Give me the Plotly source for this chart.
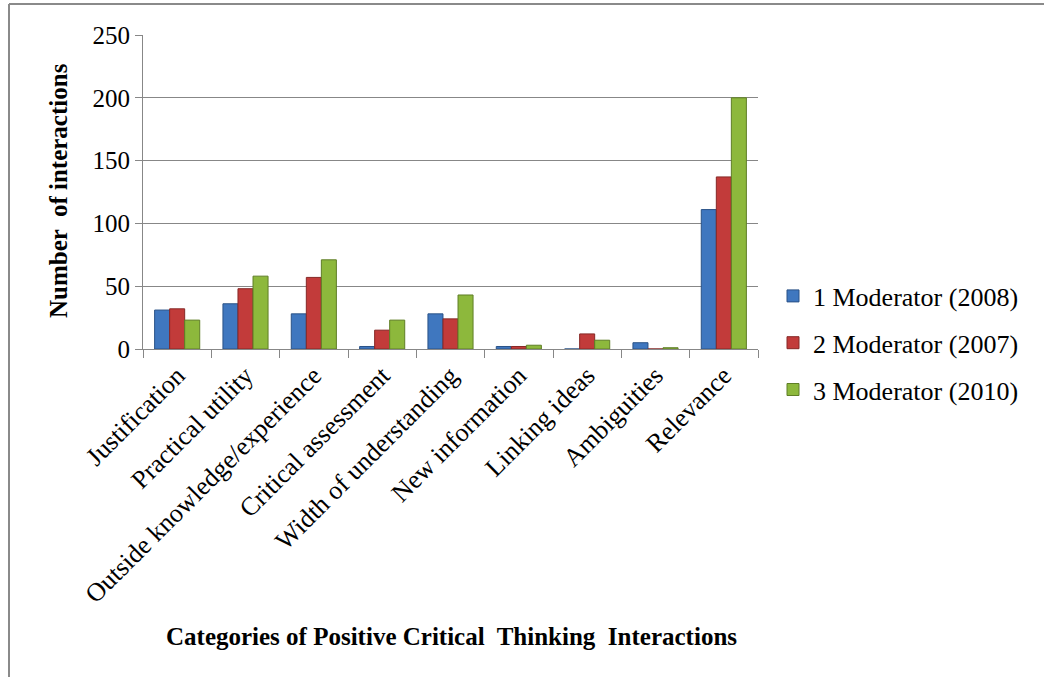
import plotly.graph_objects as go

categories = ["Justification", "Practical utility", "Outside knowledge/experience",
              "Critical assessment", "Width of understanding", "New information",
              "Linking ideas", "Ambiguities", "Relevance"]
series_names = ["1 Moderator (2008)", "2 Moderator (2007)", "3 Moderator (2010)"]
mod1_2008 = [31, 36, 28, 2, 28, 2, 0, 5, 111]
mod2_2007 = [32, 48, 57, 15, 24, 2, 12, 0, 137]
mod3_2010 = [23, 58, 71, 23, 43, 3, 7, 1, 200]
y_ticks = [0, 50, 100, 150, 200, 250]

colors = ["#3F77BF", "#C23B3A", "#8DB83C"]
edges = ["#2A5287", "#862826", "#5F7E26"]

W, H = 1044, 677
L, R, T, B = 143, 286, 35, 328
pw, ph = W - L - R, H - T - B

def px(x):
    return (x - L) / pw

def py(y):
    return (H - B - y) / ph

fig = go.Figure()
for name, vals, c, e in zip(series_names, [mod1_2008, mod2_2007, mod3_2010], colors, edges):
    fig.add_trace(go.Bar(x=categories, y=vals, name=name, legendgroup=name,
                         marker=dict(color=c, line=dict(color=e, width=1))))

serif = "Liberation Serif, Times New Roman, serif"
fig.update_layout(
    width=W, height=H,
    margin=dict(l=L, r=R, t=T, b=B, pad=0),
    paper_bgcolor="white", plot_bgcolor="white",
    barmode="group", bargap=0.34, bargroupgap=0,
    font=dict(family=serif, size=26, color="black"),
    showlegend=True,
    legend=dict(x=px(773), xanchor="left", y=py(343), yanchor="middle",
                font=dict(family=serif, size=26, color="black"),
                tracegroupgap=10, traceorder="grouped", bgcolor="rgba(0,0,0,0)"),
    xaxis=dict(showline=True, linecolor="#878787", linewidth=1,
               ticks="outside", tickson="boundaries", ticklen=8, tickcolor="#878787",
               tickangle=-45, tickfont=dict(family=serif, size=26),
               showgrid=False),
    yaxis=dict(range=[0, 250], tickvals=y_ticks, showline=True, linecolor="#878787",
               linewidth=1, ticks="outside", ticklen=7, tickcolor="#878787",
               gridcolor="#878787", gridwidth=1, zeroline=False,
               tickfont=dict(family=serif, size=25)),
    annotations=[
        dict(text="<b>Categories of Positive Critical  Thinking  Interactions</b>",
             xref="paper", yref="paper", x=px(451), y=py(636), showarrow=False,
             xanchor="center", yanchor="middle",
             font=dict(family=serif, size=25, color="black")),
        dict(text="<b>Number  of interactions</b>", textangle=-90,
             xref="paper", yref="paper", x=px(58), y=py(191), showarrow=False,
             xanchor="center", yanchor="middle",
             font=dict(family=serif, size=25, color="black")),
    ],
    shapes=[
        dict(type="line", xref="paper", yref="paper", x0=px(9), x1=px(1044),
             y0=py(4), y1=py(4), line=dict(color="#8A8A8A", width=2)),
        dict(type="line", xref="paper", yref="paper", x0=px(9), x1=px(9),
             y0=py(4), y1=py(677), line=dict(color="#8A8A8A", width=2)),
    ],
)

fig.write_html("out.html", config={"displayModeBar": False},
               post_script="document.body.style.margin='0';document.body.style.overflow='hidden';")
